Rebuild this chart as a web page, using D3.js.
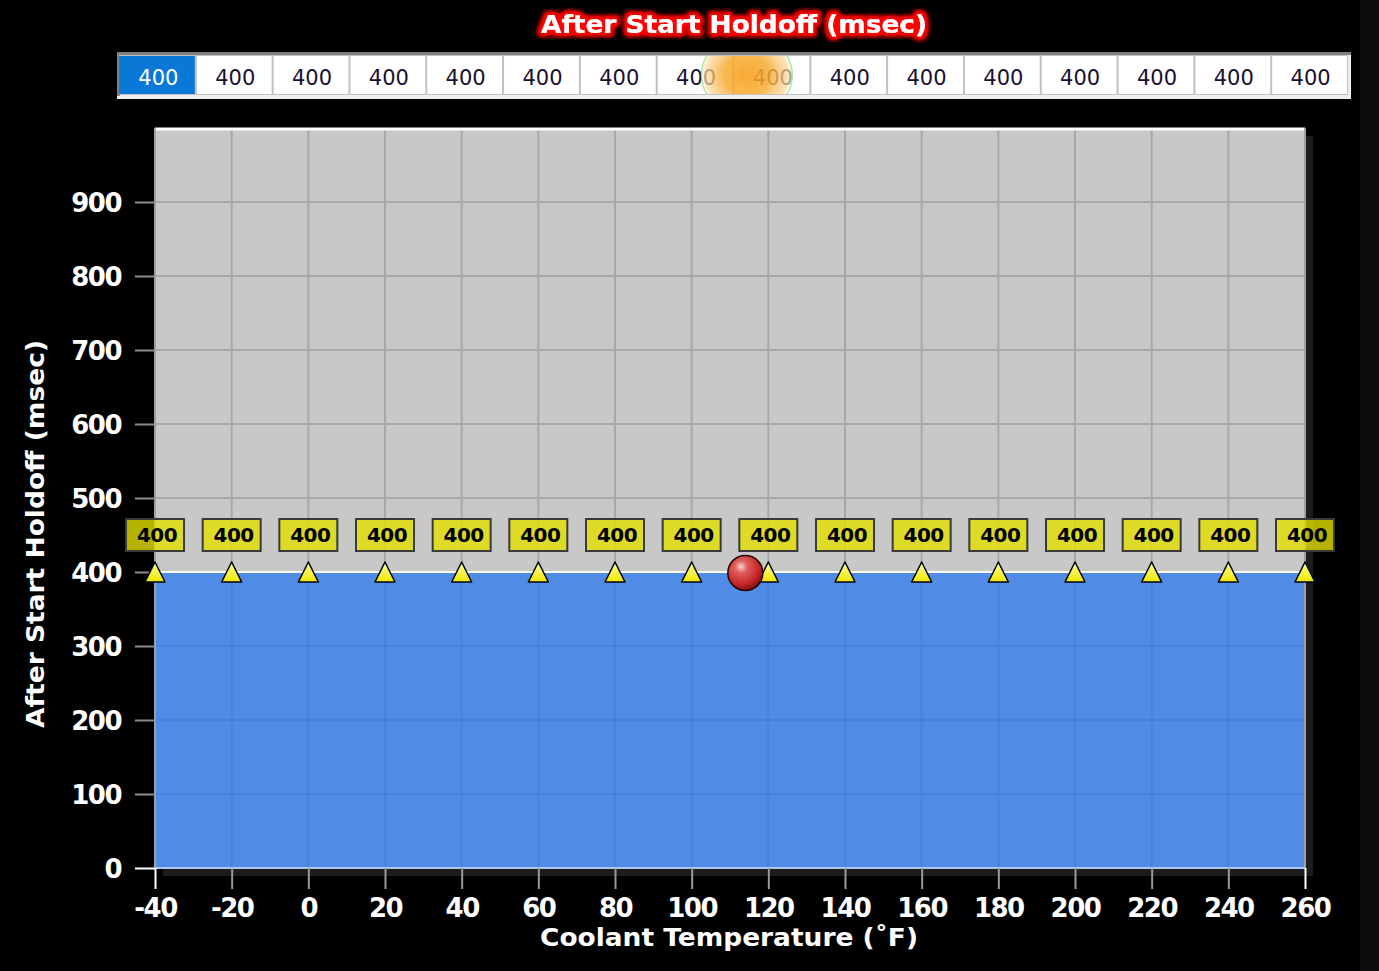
<!DOCTYPE html>
<html><head><meta charset="utf-8">
<script src="https://cdn.jsdelivr.net/npm/d3@7"></script>
<style>
html,body{margin:0;padding:0;background:#000;overflow:hidden}
svg{display:block}
</style></head>
<body>
<svg id="chart" width="1379" height="971"></svg>
<script>
// ---- data ----
const temps = [-40,-20,0,20,40,60,80,100,120,140,160,180,200,220,240,260];
const holdoff = [400,400,400,400,400,400,400,400,400,400,400,400,400,400,400,400];
const yTicks = [0,100,200,300,400,500,600,700,800,900];
const xTicks = temps;
const currentTemp = 114;
const currentValue = 400;
const selectedIndex = 0;
const chartTitle = "After Start Holdoff (msec)";
const xTitle = "Coolant Temperature (\u02DAF)";
const yTitle = "After Start Holdoff (msec)";

const svg = d3.select("#chart");
const W = 1379, H = 971;
const plot = {left:155, top:128, right:1305, bottom:868};

const x = d3.scaleLinear().domain([-40,260]).range([plot.left, plot.right]);
const y = d3.scaleLinear().domain([0,1000]).range([plot.bottom, plot.top]);

const defs = svg.append("defs");
// title glow
const glow = defs.append("filter").attr("id","glow").attr("x","-20%").attr("y","-50%").attr("width","140%").attr("height","200%");
glow.append("feMorphology").attr("in","SourceAlpha").attr("operator","dilate").attr("radius",2.5).attr("result","d");
glow.append("feGaussianBlur").attr("in","d").attr("stdDeviation",2).attr("result","b");
glow.append("feFlood").attr("flood-color","#ff0000").attr("result","c");
glow.append("feComposite").attr("in","c").attr("in2","b").attr("operator","in").attr("result","g");
const gm = glow.append("feMerge");
gm.append("feMergeNode").attr("in","g");
gm.append("feMergeNode").attr("in","g");
gm.append("feMergeNode").attr("in","SourceGraphic");

// ball gradient
const bg = defs.append("radialGradient").attr("id","ball").attr("cx","0.38").attr("cy","0.32").attr("r","0.7");
bg.append("stop").attr("offset","0").attr("stop-color","#f8d0d0");
bg.append("stop").attr("offset","0.25").attr("stop-color","#e06060");
bg.append("stop").attr("offset","0.7").attr("stop-color","#c82828");
bg.append("stop").attr("offset","1").attr("stop-color","#801010");

// triangle gradient
const tg = defs.append("linearGradient").attr("id","tri").attr("x1",0).attr("y1",0).attr("x2",0).attr("y2",1);
tg.append("stop").attr("offset","0").attr("stop-color","#ffffa0");
tg.append("stop").attr("offset","1").attr("stop-color","#f0e800");

// orange glow for table
const og = defs.append("radialGradient").attr("id","orange").attr("cx","0.5").attr("cy","0.5").attr("r","0.5");
og.append("stop").attr("offset","0").attr("stop-color","#f6a020").attr("stop-opacity",0.9);
og.append("stop").attr("offset","0.5").attr("stop-color","#f8ac30").attr("stop-opacity",0.85);
og.append("stop").attr("offset","0.9").attr("stop-color","#fbd8a0").attr("stop-opacity",0.7);
og.append("stop").attr("offset","0.95").attr("stop-color","#fff0d8").attr("stop-opacity",0.6);
og.append("stop").attr("offset","1").attr("stop-color","#80e070").attr("stop-opacity",0.95);

defs.append("clipPath").attr("id","plotclip").append("rect")
  .attr("x",plot.left).attr("y",plot.top).attr("width",plot.right-plot.left).attr("height",plot.bottom-plot.top);

// right dark strip
svg.append("rect").attr("x",1360).attr("y",0).attr("width",19).attr("height",H).attr("fill","#0c0c0c");

// ---- title ----
svg.append("text").attr("x",734).attr("y",33).attr("text-anchor","middle")
  .attr("font-family","DejaVu Sans").attr("font-weight","bold").attr("font-size",24)
  .attr("textLength",386).attr("lengthAdjust","spacingAndGlyphs")
  .attr("fill","#fff").attr("filter","url(#glow)").text(chartTitle);

// ---- table ----
const tbl = {left:117, top:52, right:1351, bottom:99};
svg.append("rect").attr("x",tbl.left).attr("y",tbl.top).attr("width",tbl.right-tbl.left).attr("height",tbl.bottom-tbl.top).attr("fill","#f0f0f0");
svg.append("rect").attr("x",tbl.left).attr("y",tbl.top).attr("width",tbl.right-tbl.left).attr("height",3).attr("fill","#808080");
svg.append("rect").attr("x",tbl.left).attr("y",tbl.top).attr("width",3).attr("height",tbl.bottom-tbl.top-3).attr("fill","#808080");
const cellL = 119, cellR = 1348, cellT = 55, cellB = 95;
const cx = d3.scaleBand().domain(d3.range(temps.length)).range([cellL, cellR]);
svg.append("rect").attr("x",cellL).attr("y",cellT).attr("width",cellR-cellL).attr("height",cellB-cellT).attr("fill","#c0c0c0");
svg.append("g").selectAll("rect").data(holdoff).join("rect")
  .attr("x",(d,i)=>cx(i)+(i===0?0:1)).attr("y",cellT+1)
  .attr("width",(d,i)=>cx.bandwidth()-(i===0?1:2)).attr("height",cellB-cellT-2)
  .attr("fill",(d,i)=>i===selectedIndex?"#0a78d7":"#ffffff");
svg.append("g").selectAll("text").data(holdoff).join("text")
  .attr("x",(d,i)=>cx(i)+cx.bandwidth()/2+1).attr("y",85).attr("text-anchor","middle")
  .attr("font-family","DejaVu Sans").attr("font-size",21)
  .attr("fill",(d,i)=>i===selectedIndex?"#ffffff":"#1a1030").text(d=>d);
// glow at current position (interpolated in table)
const tPos = d3.scaleLinear().domain([-40,260]).range([cellL+cx.bandwidth()/2, cellR-cx.bandwidth()/2]);
defs.append("clipPath").attr("id","tblclip").append("rect").attr("x",cellL).attr("y",cellT+1).attr("width",cellR-cellL).attr("height",cellB-cellT-2);
svg.append("ellipse").attr("clip-path","url(#tblclip)")
  .attr("cx",tPos(currentTemp)-2).attr("cy",75).attr("rx",46).attr("ry",42)
  .attr("fill","url(#orange)");

// ---- plot ----
// shadow
svg.append("rect").attr("x",plot.left+8).attr("y",plot.top+8).attr("width",plot.right-plot.left).attr("height",plot.bottom-plot.top).attr("fill","#1c1c1c");
svg.append("rect").attr("x",plot.left).attr("y",plot.top).attr("width",plot.right-plot.left).attr("height",plot.bottom-plot.top).attr("fill","#c8c8c8");

const gridG = svg.append("g").attr("clip-path","url(#plotclip)");
gridG.selectAll("line.v").data(xTicks).join("line")
  .attr("x1",d=>x(d)).attr("x2",d=>x(d)).attr("y1",plot.top).attr("y2",plot.bottom)
  .attr("stroke","#a8a8a8").attr("stroke-width",2);
gridG.selectAll("line.h").data(yTicks.filter(d=>d>0)).join("line").attr("class","h")
  .attr("y1",d=>y(d)).attr("y2",d=>y(d)).attr("x1",plot.left).attr("x2",plot.right)
  .attr("stroke","#a8a8a8").attr("stroke-width",2);

// area
const area = d3.area().x((d,i)=>x(temps[i])).y0(y(0)).y1(d=>y(d));
svg.append("path").datum(holdoff).attr("d",area).attr("fill","#508ce6");
// faint grid in blue
const fg = svg.append("g").attr("clip-path","url(#plotclip)");
fg.selectAll("line.v").data(xTicks).join("line")
  .attr("x1",d=>x(d)).attr("x2",d=>x(d)).attr("y1",y(400)).attr("y2",plot.bottom)
  .attr("stroke","#3c78d8").attr("stroke-opacity",0.5).attr("stroke-width",2);
fg.selectAll("line.h").data(yTicks.filter(d=>d>0&&d<400)).join("line")
  .attr("y1",d=>y(d)).attr("y2",d=>y(d)).attr("x1",plot.left).attr("x2",plot.right)
  .attr("stroke","#3c78d8").attr("stroke-opacity",0.5).attr("stroke-width",2);

// line
const line = d3.line().x((d,i)=>x(temps[i])).y(d=>y(d));
svg.append("path").datum(holdoff).attr("d",line).attr("fill","none").attr("stroke","#ffffff").attr("stroke-width",2);

// borders
svg.append("line").attr("x1",plot.left).attr("x2",plot.right).attr("y1",plot.top+1).attr("y2",plot.top+1).attr("stroke","#ffffff").attr("stroke-width",3);
svg.append("line").attr("x1",plot.left).attr("x2",plot.left).attr("y1",plot.top).attr("y2",plot.bottom).attr("stroke","#a0a0a0").attr("stroke-width",2);
svg.append("line").attr("x1",plot.right).attr("x2",plot.right).attr("y1",plot.top).attr("y2",plot.bottom).attr("stroke","#a0a0a0").attr("stroke-width",2);
svg.append("line").attr("x1",plot.left).attr("x2",plot.right).attr("y1",plot.bottom).attr("y2",plot.bottom).attr("stroke","#b0c8f0").attr("stroke-width",2);

// axes
const fontAxis = g => g.selectAll("text").attr("font-family","DejaVu Sans").attr("font-weight","bold")
  .attr("font-size",26).attr("letter-spacing",-1.5).attr("fill","#fff");
const yAxis = d3.axisLeft(y).tickValues(yTicks).tickSize(20).tickPadding(14).tickFormat(d=>String(d));
const yg = svg.append("g").attr("transform",`translate(${plot.left},0)`).call(yAxis);
yg.select(".domain").remove();
yg.selectAll(".tick line").attr("stroke",d=>d===0?"#ffffff":"#8a8a8a").attr("stroke-width",2);
yg.call(fontAxis);
yg.selectAll("text").attr("dy","0.36em");

const xAxis = d3.axisBottom(x).tickValues(xTicks).tickSize(21).tickPadding(8).tickFormat(d=>String(d));
const xg = svg.append("g").attr("transform",`translate(0,${plot.bottom})`).call(xAxis);
xg.select(".domain").remove();
xg.selectAll(".tick line").attr("stroke",(d,i)=>(i===0||i===xTicks.length-1)?"#ffffff":"#9a9a9a").attr("stroke-width",2);
xg.call(fontAxis);
xg.selectAll("text").attr("dy","0.75em");

// axis titles
svg.append("text").attr("x",729).attr("y",946).attr("text-anchor","middle")
  .attr("font-family","DejaVu Sans").attr("font-weight","bold").attr("font-size",24)
  .attr("textLength",378).attr("lengthAdjust","spacingAndGlyphs")
  .attr("fill","#fff").text(xTitle);
svg.append("text").attr("transform","translate(44,534) rotate(-90)").attr("text-anchor","middle")
  .attr("font-family","DejaVu Sans").attr("font-weight","bold").attr("font-size",24)
  .attr("textLength",388).attr("lengthAdjust","spacingAndGlyphs")
  .attr("fill","#fff").text(yTitle);

// value labels
const lab = svg.append("g");
const lg = lab.selectAll("g").data(holdoff).join("g")
  .attr("transform",(d,i)=>`translate(${x(temps[i])},${y(d)-37})`);
lg.append("rect").attr("x",-29).attr("y",-16).attr("width",58).attr("height",32)
  .attr("fill","rgb(228,224,0)").attr("fill-opacity",0.8).attr("stroke","#3a3a3a").attr("stroke-width",2);
lg.append("text").attr("text-anchor","middle").attr("x",2).attr("y",7)
  .attr("font-family","DejaVu Sans").attr("font-weight","bold").attr("font-size",20)
  .attr("letter-spacing",-0.5).attr("fill","#000").text(d=>d);

// triangles
svg.append("g").selectAll("path").data(holdoff).join("path")
  .attr("d",(d,i)=>{const px=x(temps[i]), py=y(d); return `M${px},${py-10}L${px+10},${py+10}L${px-10},${py+10}Z`;})
  .attr("fill","url(#tri)").attr("stroke","#000").attr("stroke-width",1.5).attr("stroke-linejoin","round");

// current position ball
svg.append("circle").attr("cx",x(currentTemp)).attr("cy",y(currentValue)+1).attr("r",17.5)
  .attr("fill","url(#ball)").attr("stroke","#2a0000").attr("stroke-width",1.5);
</script>
</body></html>
